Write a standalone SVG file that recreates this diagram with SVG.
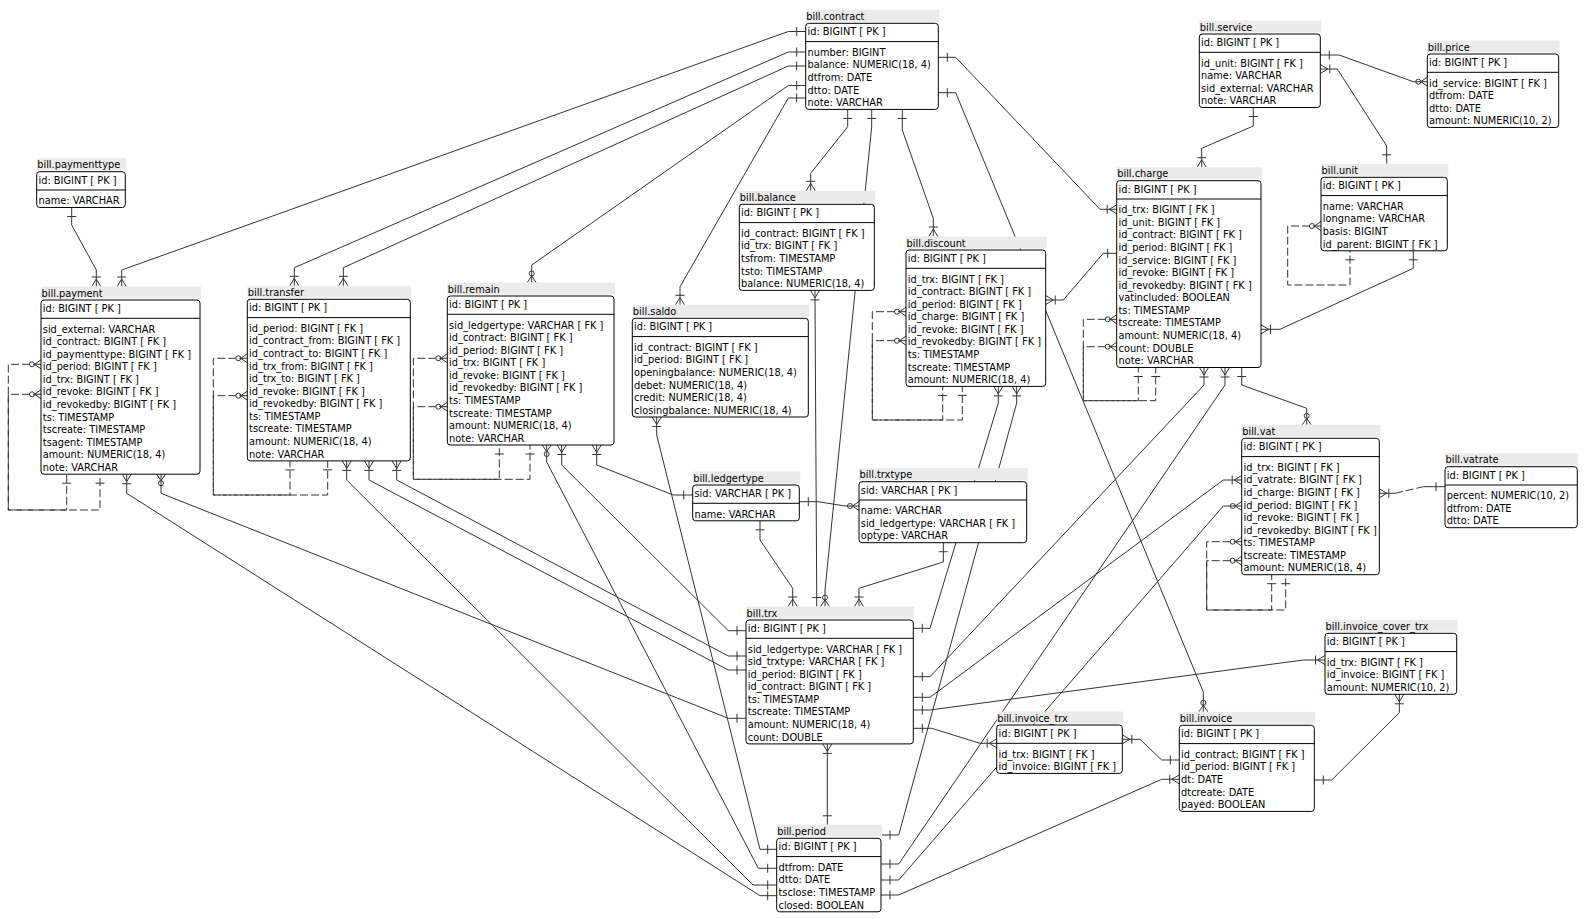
<svg xmlns="http://www.w3.org/2000/svg" width="1590" height="919" viewBox="0 0 1590 919">
<style>
.tb{fill:#ebebeb}
.bx{fill:#fff;stroke:#000;stroke-width:1}
.dv{stroke:#000;stroke-width:1}
.t{font-family:"DejaVu Sans",Verdana,sans-serif;font-size:9.8px;fill:#000}
.e{stroke:#333;fill:none;stroke-width:1}
</style>
<defs>
<g id="one"><path d="M-9,-4.5V4.5"/></g>
<g id="many"><path d="M-9.5,-4.5V4.5M-7.5,0L0,-4.5M-7.5,0L0,4.5"/></g>
<g id="zmany"><circle cx="-9" cy="0" r="2.5"/><path d="M-6.5,0L0,-4.5M-6.5,0L0,4.5"/></g>
</defs>
<rect width="1590" height="919" fill="#fff"/>
<g id="connectors" fill="none" stroke="#333" stroke-width="1">
<path d="M805.7,31.5H788.3L121.7,270V286.5"/>
<path d="M71.7,207.5V225L96.3,270V286.5"/>
<path d="M805.7,52H788.3L294.3,267.7V285.8"/>
<path d="M805.7,66H788.3L343.3,267.7V285.8"/>
<path d="M805.7,85.5H788.3L531.7,265V282.5"/>
<path d="M805.7,98H788.3L680,286.7V304.8"/>
<path d="M847.7,109.4V126.7L810.7,173.3V190.8"/>
<path d="M871.7,109.4V126.7L825,590V606.5"/>
<path d="M902.3,109.4V130L933.3,218.3V236.5"/>
<path d="M938.3,57.3H955.7L1100,209.3H1116.7"/>
<path d="M938.3,92.7H955.7L1203.3,692V711.8"/>
<path d="M1253.3,107.5V126L1201.7,148.3V167.2"/>
<path d="M1320.3,55H1339L1413.3,81.7H1427.3"/>
<path d="M1320.3,69H1337.3L1386.7,146V163.8"/>
<path d="M1413.3,250.8V268.3L1280,329.3H1261"/>
<path d="M1045.7,300H1063.3L1103.3,253.3H1116.7"/>
<path d="M1204,367.5V385L930,676.7H913.3"/>
<path d="M1225,367.5V385L898.7,864H881"/>
<path d="M1241.7,367.5V385L1306.7,408.3V424.8"/>
<path d="M1241.7,480H1223.3L930,697.3H913.3"/>
<path d="M1241.7,506H1223.3L898.7,880H881"/>
<path d="M1379.3,493.3H1395M1423.3,486.7H1445"/>
<path d="M998.3,386.4V403L930,628.3H913.3"/>
<path d="M1016.7,386.4V403L898.7,835H881"/>
<path d="M943.3,542.7V562L859,588.3V606.5"/>
<path d="M799.3,501.7H818.3L845,506H859"/>
<path d="M760,520.8V540L792.7,588.3V606.5"/>
<path d="M815,290.4V300L816.7,590V606.5"/>
<path d="M596.7,445V465L673.3,495H692.7"/>
<path d="M546.7,445V462L758.3,868.3H776.7"/>
<path d="M561.7,445V465L728.3,630.7H746"/>
<path d="M656.7,417V435L760,849.3H776.7"/>
<path d="M126.7,474.2V493.3L760,895.7H776.7"/>
<path d="M161,474.2V493.3L728.3,718.3H746"/>
<path d="M346.7,460.9V480L753,885H776.7"/>
<path d="M369,460.9V480L728.3,670H746"/>
<path d="M396.7,460.9V480L728.3,656H746"/>
<path d="M827.3,743.9V824.8"/>
<path d="M913.3,728.3H931.7L980,743.3H996.7"/>
<path d="M913.3,710H930L1303.3,660H1325"/>
<path d="M1122.3,739.3H1140L1161.7,760H1179.3"/>
<path d="M881,895H898.7L1161.7,779.3H1179.3"/>
<path d="M1314.3,780H1331.7L1399.3,712.7V694.3"/>
<g stroke-dasharray="8,3">
<path d="M1321,226H1287.7V285H1350V250.8"/>
<path d="M1116.7,319.3H1083.3V400.7H1138.3V367.5"/>
<path d="M1116.7,346.7H1083.3V400.7H1155.7V367.5"/>
<path d="M1241.7,541.7H1206.7V610H1271.7V574.7"/>
<path d="M1241.7,560.7H1206.7V610H1285.7V574.7"/>
<path d="M1395,493.3L1423.3,486.7"/>
<path d="M906,311.7H872.3V420H942.7V386.4"/>
<path d="M906,340.7H872.3V420H962.3V386.4"/>
<path d="M447.3,358.3H413.3V479.3H499.3V445"/>
<path d="M447.3,406.7H413.3V479.3H530V445"/>
<path d="M41,364.3H8.3V510H66.7V474.2"/>
<path d="M41,394.3H8.3V510H100V474.2"/>
<path d="M247.3,358.3H213.3V495H290V460.9"/>
<path d="M247.3,395.7H213.3V495H327.7V460.9"/>
</g>
<g class="e">
<use href="#one" transform="translate(805.7,31.5)"/>
<use href="#many" transform="translate(121.7,286.5) rotate(90)"/>
<use href="#one" transform="translate(71.7,207.5) rotate(-90)"/>
<use href="#many" transform="translate(96.3,286.5) rotate(90)"/>
<use href="#one" transform="translate(805.7,52)"/>
<use href="#many" transform="translate(294.3,285.8) rotate(90)"/>
<use href="#one" transform="translate(805.7,66)"/>
<use href="#many" transform="translate(343.3,285.8) rotate(90)"/>
<use href="#one" transform="translate(805.7,85.5)"/>
<use href="#zmany" transform="translate(531.7,282.5) rotate(90)"/>
<use href="#one" transform="translate(805.7,98)"/>
<use href="#many" transform="translate(680,304.8) rotate(90)"/>
<use href="#one" transform="translate(847.7,109.4) rotate(-90)"/>
<use href="#many" transform="translate(810.7,190.8) rotate(90)"/>
<use href="#one" transform="translate(871.7,109.4) rotate(-90)"/>
<use href="#zmany" transform="translate(825,606.5) rotate(90)"/>
<use href="#one" transform="translate(902.3,109.4) rotate(-90)"/>
<use href="#many" transform="translate(933.3,236.5) rotate(90)"/>
<use href="#one" transform="translate(938.3,57.3) rotate(180)"/>
<use href="#many" transform="translate(1116.7,209.3)"/>
<use href="#one" transform="translate(938.3,92.7) rotate(180)"/>
<use href="#zmany" transform="translate(1203.3,711.8) rotate(90)"/>
<use href="#one" transform="translate(1253.3,107.5) rotate(-90)"/>
<use href="#many" transform="translate(1201.7,167.2) rotate(90)"/>
<use href="#one" transform="translate(1320.3,55) rotate(180)"/>
<use href="#zmany" transform="translate(1427.3,81.7)"/>
<use href="#many" transform="translate(1320.3,69) rotate(180)"/>
<use href="#one" transform="translate(1386.7,163.8) rotate(90)"/>
<use href="#zmany" transform="translate(1321,226)"/>
<use href="#one" transform="translate(1350,250.8) rotate(-90)"/>
<use href="#one" transform="translate(1413.3,250.8) rotate(-90)"/>
<use href="#many" transform="translate(1261,329.3) rotate(180)"/>
<use href="#many" transform="translate(1045.7,300) rotate(180)"/>
<use href="#one" transform="translate(1116.7,253.3)"/>
<use href="#zmany" transform="translate(1116.7,319.3)"/>
<use href="#one" transform="translate(1138.3,367.5) rotate(-90)"/>
<use href="#zmany" transform="translate(1116.7,346.7)"/>
<use href="#one" transform="translate(1155.7,367.5) rotate(-90)"/>
<use href="#many" transform="translate(1204,367.5) rotate(-90)"/>
<use href="#one" transform="translate(913.3,676.7) rotate(180)"/>
<use href="#many" transform="translate(1225,367.5) rotate(-90)"/>
<use href="#one" transform="translate(881,864) rotate(180)"/>
<use href="#one" transform="translate(1241.7,367.5) rotate(-90)"/>
<use href="#zmany" transform="translate(1306.7,424.8) rotate(90)"/>
<use href="#many" transform="translate(1241.7,480)"/>
<use href="#one" transform="translate(913.3,697.3) rotate(180)"/>
<use href="#zmany" transform="translate(1241.7,506)"/>
<use href="#one" transform="translate(881,880) rotate(180)"/>
<use href="#zmany" transform="translate(1241.7,541.7)"/>
<use href="#zmany" transform="translate(1241.7,560.7)"/>
<use href="#one" transform="translate(1271.7,574.7) rotate(-90)"/>
<use href="#one" transform="translate(1285.7,574.7) rotate(-90)"/>
<use href="#many" transform="translate(1379.3,493.3) rotate(180)"/>
<use href="#one" transform="translate(1445,486.7)"/>
<use href="#zmany" transform="translate(906,311.7)"/>
<use href="#zmany" transform="translate(906,340.7)"/>
<use href="#one" transform="translate(942.7,386.4) rotate(-90)"/>
<use href="#one" transform="translate(962.3,386.4) rotate(-90)"/>
<use href="#many" transform="translate(998.3,386.4) rotate(-90)"/>
<use href="#one" transform="translate(913.3,628.3) rotate(180)"/>
<use href="#many" transform="translate(1016.7,386.4) rotate(-90)"/>
<use href="#one" transform="translate(881,835) rotate(180)"/>
<use href="#one" transform="translate(943.3,542.7) rotate(-90)"/>
<use href="#many" transform="translate(859,606.5) rotate(90)"/>
<use href="#one" transform="translate(799.3,501.7) rotate(180)"/>
<use href="#zmany" transform="translate(859,506)"/>
<use href="#one" transform="translate(760,520.8) rotate(-90)"/>
<use href="#many" transform="translate(792.7,606.5) rotate(90)"/>
<use href="#many" transform="translate(815,290.4) rotate(-90)"/>
<use href="#one" transform="translate(816.7,606.5) rotate(90)"/>
<use href="#many" transform="translate(596.7,445) rotate(-90)"/>
<use href="#one" transform="translate(692.7,495)"/>
<use href="#zmany" transform="translate(447.3,358.3)"/>
<use href="#zmany" transform="translate(447.3,406.7)"/>
<use href="#one" transform="translate(499.3,445) rotate(-90)"/>
<use href="#one" transform="translate(530,445) rotate(-90)"/>
<use href="#zmany" transform="translate(546.7,445) rotate(-90)"/>
<use href="#one" transform="translate(776.7,868.3)"/>
<use href="#many" transform="translate(561.7,445) rotate(-90)"/>
<use href="#one" transform="translate(746,630.7)"/>
<use href="#many" transform="translate(656.7,417) rotate(-90)"/>
<use href="#one" transform="translate(776.7,849.3)"/>
<use href="#many" transform="translate(126.7,474.2) rotate(-90)"/>
<use href="#one" transform="translate(776.7,895.7)"/>
<use href="#zmany" transform="translate(161,474.2) rotate(-90)"/>
<use href="#one" transform="translate(746,718.3)"/>
<use href="#zmany" transform="translate(41,364.3)"/>
<use href="#zmany" transform="translate(41,394.3)"/>
<use href="#one" transform="translate(66.7,474.2) rotate(-90)"/>
<use href="#one" transform="translate(100,474.2) rotate(-90)"/>
<use href="#many" transform="translate(346.7,460.9) rotate(-90)"/>
<use href="#one" transform="translate(776.7,885)"/>
<use href="#many" transform="translate(369,460.9) rotate(-90)"/>
<use href="#one" transform="translate(746,670)"/>
<use href="#many" transform="translate(396.7,460.9) rotate(-90)"/>
<use href="#one" transform="translate(746,656)"/>
<use href="#zmany" transform="translate(247.3,358.3)"/>
<use href="#zmany" transform="translate(247.3,395.7)"/>
<use href="#one" transform="translate(290,460.9) rotate(-90)"/>
<use href="#one" transform="translate(327.7,460.9) rotate(-90)"/>
<use href="#many" transform="translate(827.3,743.9) rotate(-90)"/>
<use href="#one" transform="translate(827.3,824.8) rotate(90)"/>
<use href="#one" transform="translate(913.3,728.3) rotate(180)"/>
<use href="#many" transform="translate(996.7,743.3)"/>
<use href="#one" transform="translate(913.3,710) rotate(180)"/>
<use href="#many" transform="translate(1325,660)"/>
<use href="#many" transform="translate(1122.3,739.3) rotate(180)"/>
<use href="#one" transform="translate(1179.3,760)"/>
<use href="#one" transform="translate(881,895) rotate(180)"/>
<use href="#many" transform="translate(1179.3,779.3)"/>
<use href="#one" transform="translate(1314.3,780) rotate(180)"/>
<use href="#many" transform="translate(1399.3,694.3) rotate(-90)"/>
</g>
</g>

<g id="contract">
<rect class="tb" x="805.7" y="9.8" width="133.6" height="12"/>
<text class="t" x="806.2" y="19.8">bill.contract</text>
<rect class="bx" x="805.7" y="23.3" width="132.6" height="86.1" rx="3"/>
<line class="dv" x1="805.7" y1="41.6" x2="938.3" y2="41.6"/>
<text class="t" x="807.5" y="35.1">id: BIGINT [ PK ]</text>
<text class="t" x="807.5" y="55.8">number: BIGINT<tspan x="807.5" dy="12.58">balance: NUMERIC(18, 4)</tspan><tspan x="807.5" dy="12.58">dtfrom: DATE</tspan><tspan x="807.5" dy="12.58">dtto: DATE</tspan><tspan x="807.5" dy="12.58">note: VARCHAR</tspan></text>
</g>

<g id="service">
<rect class="tb" x="1199.3" y="20.5" width="122" height="12"/>
<text class="t" x="1199.8" y="30.5">bill.service</text>
<rect class="bx" x="1199.3" y="34" width="121" height="73.5" rx="3"/>
<line class="dv" x1="1199.3" y1="52.3" x2="1320.3" y2="52.3"/>
<text class="t" x="1201.1" y="45.8">id: BIGINT [ PK ]</text>
<text class="t" x="1201.1" y="66.5">id_unit: BIGINT [ FK ]<tspan x="1201.1" dy="12.58">name: VARCHAR</tspan><tspan x="1201.1" dy="12.58">sid_external: VARCHAR</tspan><tspan x="1201.1" dy="12.58">note: VARCHAR</tspan></text>
</g>

<g id="price">
<rect class="tb" x="1427.3" y="40.5" width="132.4" height="12"/>
<text class="t" x="1427.8" y="50.5">bill.price</text>
<rect class="bx" x="1427.3" y="54" width="131.4" height="73.5" rx="3"/>
<line class="dv" x1="1427.3" y1="72.3" x2="1558.7" y2="72.3"/>
<text class="t" x="1429.1" y="65.8">id: BIGINT [ PK ]</text>
<text class="t" x="1429.1" y="86.5">id_service: BIGINT [ FK ]<tspan x="1429.1" dy="12.58">dtfrom: DATE</tspan><tspan x="1429.1" dy="12.58">dtto: DATE</tspan><tspan x="1429.1" dy="12.58">amount: NUMERIC(10, 2)</tspan></text>
</g>

<g id="unit">
<rect class="tb" x="1321" y="163.8" width="127.3" height="12"/>
<text class="t" x="1321.5" y="173.8">bill.unit</text>
<rect class="bx" x="1321" y="177.3" width="126.3" height="73.5" rx="3"/>
<line class="dv" x1="1321" y1="195.6" x2="1447.3" y2="195.6"/>
<text class="t" x="1322.8" y="189.1">id: BIGINT [ PK ]</text>
<text class="t" x="1322.8" y="209.8">name: VARCHAR<tspan x="1322.8" dy="12.58">longname: VARCHAR</tspan><tspan x="1322.8" dy="12.58">basis: BIGINT</tspan><tspan x="1322.8" dy="12.58">id_parent: BIGINT [ FK ]</tspan></text>
</g>

<g id="charge">
<rect class="tb" x="1116.7" y="167.2" width="145.3" height="12"/>
<text class="t" x="1117.2" y="177.2">bill.charge</text>
<rect class="bx" x="1116.7" y="180.7" width="144.3" height="186.8" rx="3"/>
<line class="dv" x1="1116.7" y1="199" x2="1261" y2="199"/>
<text class="t" x="1118.5" y="192.5">id: BIGINT [ PK ]</text>
<text class="t" x="1118.5" y="213.2">id_trx: BIGINT [ FK ]<tspan x="1118.5" dy="12.58">id_unit: BIGINT [ FK ]</tspan><tspan x="1118.5" dy="12.58">id_contract: BIGINT [ FK ]</tspan><tspan x="1118.5" dy="12.58">id_period: BIGINT [ FK ]</tspan><tspan x="1118.5" dy="12.58">id_service: BIGINT [ FK ]</tspan><tspan x="1118.5" dy="12.58">id_revoke: BIGINT [ FK ]</tspan><tspan x="1118.5" dy="12.58">id_revokedby: BIGINT [ FK ]</tspan><tspan x="1118.5" dy="12.58">vatincluded: BOOLEAN</tspan><tspan x="1118.5" dy="12.58">ts: TIMESTAMP</tspan><tspan x="1118.5" dy="12.58">tscreate: TIMESTAMP</tspan><tspan x="1118.5" dy="12.58">amount: NUMERIC(18, 4)</tspan><tspan x="1118.5" dy="12.58">count: DOUBLE</tspan><tspan x="1118.5" dy="12.58">note: VARCHAR</tspan></text>
</g>

<g id="balance">
<rect class="tb" x="739.3" y="190.8" width="136" height="12"/>
<text class="t" x="739.8" y="200.8">bill.balance</text>
<rect class="bx" x="739.3" y="204.3" width="135" height="86.1" rx="3"/>
<line class="dv" x1="739.3" y1="222.6" x2="874.3" y2="222.6"/>
<text class="t" x="741.1" y="216.1">id: BIGINT [ PK ]</text>
<text class="t" x="741.1" y="236.8">id_contract: BIGINT [ FK ]<tspan x="741.1" dy="12.58">id_trx: BIGINT [ FK ]</tspan><tspan x="741.1" dy="12.58">tsfrom: TIMESTAMP</tspan><tspan x="741.1" dy="12.58">tsto: TIMESTAMP</tspan><tspan x="741.1" dy="12.58">balance: NUMERIC(18, 4)</tspan></text>
</g>

<g id="discount">
<rect class="tb" x="906" y="236.5" width="140.7" height="12"/>
<text class="t" x="906.5" y="246.5">bill.discount</text>
<rect class="bx" x="906" y="250" width="139.7" height="136.4" rx="3"/>
<line class="dv" x1="906" y1="268.3" x2="1045.7" y2="268.3"/>
<text class="t" x="907.8" y="261.8">id: BIGINT [ PK ]</text>
<text class="t" x="907.8" y="282.5">id_trx: BIGINT [ FK ]<tspan x="907.8" dy="12.58">id_contract: BIGINT [ FK ]</tspan><tspan x="907.8" dy="12.58">id_period: BIGINT [ FK ]</tspan><tspan x="907.8" dy="12.58">id_charge: BIGINT [ FK ]</tspan><tspan x="907.8" dy="12.58">id_revoke: BIGINT [ FK ]</tspan><tspan x="907.8" dy="12.58">id_revokedby: BIGINT [ FK ]</tspan><tspan x="907.8" dy="12.58">ts: TIMESTAMP</tspan><tspan x="907.8" dy="12.58">tscreate: TIMESTAMP</tspan><tspan x="907.8" dy="12.58">amount: NUMERIC(18, 4)</tspan></text>
</g>

<g id="paymenttype">
<rect class="tb" x="36.7" y="158.2" width="89.6" height="12"/>
<text class="t" x="37.2" y="168.2">bill.paymenttype</text>
<rect class="bx" x="36.7" y="171.7" width="88.6" height="35.8" rx="3"/>
<line class="dv" x1="36.7" y1="190" x2="125.3" y2="190"/>
<text class="t" x="38.5" y="183.5">id: BIGINT [ PK ]</text>
<text class="t" x="38.5" y="204.2">name: VARCHAR</text>
</g>

<g id="payment">
<rect class="tb" x="41" y="286.5" width="160" height="12"/>
<text class="t" x="41.5" y="296.5">bill.payment</text>
<rect class="bx" x="41" y="300" width="159" height="174.2" rx="3"/>
<line class="dv" x1="41" y1="318.3" x2="200" y2="318.3"/>
<text class="t" x="42.8" y="311.8">id: BIGINT [ PK ]</text>
<text class="t" x="42.8" y="332.5">sid_external: VARCHAR<tspan x="42.8" dy="12.58">id_contract: BIGINT [ FK ]</tspan><tspan x="42.8" dy="12.58">id_paymenttype: BIGINT [ FK ]</tspan><tspan x="42.8" dy="12.58">id_period: BIGINT [ FK ]</tspan><tspan x="42.8" dy="12.58">id_trx: BIGINT [ FK ]</tspan><tspan x="42.8" dy="12.58">id_revoke: BIGINT [ FK ]</tspan><tspan x="42.8" dy="12.58">id_revokedby: BIGINT [ FK ]</tspan><tspan x="42.8" dy="12.58">ts: TIMESTAMP</tspan><tspan x="42.8" dy="12.58">tscreate: TIMESTAMP</tspan><tspan x="42.8" dy="12.58">tsagent: TIMESTAMP</tspan><tspan x="42.8" dy="12.58">amount: NUMERIC(18, 4)</tspan><tspan x="42.8" dy="12.58">note: VARCHAR</tspan></text>
</g>

<g id="transfer">
<rect class="tb" x="247.3" y="285.8" width="164" height="12"/>
<text class="t" x="247.8" y="295.8">bill.transfer</text>
<rect class="bx" x="247.3" y="299.3" width="163" height="161.6" rx="3"/>
<line class="dv" x1="247.3" y1="317.6" x2="410.3" y2="317.6"/>
<text class="t" x="249.1" y="311.1">id: BIGINT [ PK ]</text>
<text class="t" x="249.1" y="331.8">id_period: BIGINT [ FK ]<tspan x="249.1" dy="12.58">id_contract_from: BIGINT [ FK ]</tspan><tspan x="249.1" dy="12.58">id_contract_to: BIGINT [ FK ]</tspan><tspan x="249.1" dy="12.58">id_trx_from: BIGINT [ FK ]</tspan><tspan x="249.1" dy="12.58">id_trx_to: BIGINT [ FK ]</tspan><tspan x="249.1" dy="12.58">id_revoke: BIGINT [ FK ]</tspan><tspan x="249.1" dy="12.58">id_revokedby: BIGINT [ FK ]</tspan><tspan x="249.1" dy="12.58">ts: TIMESTAMP</tspan><tspan x="249.1" dy="12.58">tscreate: TIMESTAMP</tspan><tspan x="249.1" dy="12.58">amount: NUMERIC(18, 4)</tspan><tspan x="249.1" dy="12.58">note: VARCHAR</tspan></text>
</g>

<g id="remain">
<rect class="tb" x="447.3" y="282.5" width="167.7" height="12"/>
<text class="t" x="447.8" y="292.5">bill.remain</text>
<rect class="bx" x="447.3" y="296" width="166.7" height="149" rx="3"/>
<line class="dv" x1="447.3" y1="314.3" x2="614" y2="314.3"/>
<text class="t" x="449.1" y="307.8">id: BIGINT [ PK ]</text>
<text class="t" x="449.1" y="328.5">sid_ledgertype: VARCHAR [ FK ]<tspan x="449.1" dy="12.58">id_contract: BIGINT [ FK ]</tspan><tspan x="449.1" dy="12.58">id_period: BIGINT [ FK ]</tspan><tspan x="449.1" dy="12.58">id_trx: BIGINT [ FK ]</tspan><tspan x="449.1" dy="12.58">id_revoke: BIGINT [ FK ]</tspan><tspan x="449.1" dy="12.58">id_revokedby: BIGINT [ FK ]</tspan><tspan x="449.1" dy="12.58">ts: TIMESTAMP</tspan><tspan x="449.1" dy="12.58">tscreate: TIMESTAMP</tspan><tspan x="449.1" dy="12.58">amount: NUMERIC(18, 4)</tspan><tspan x="449.1" dy="12.58">note: VARCHAR</tspan></text>
</g>

<g id="saldo">
<rect class="tb" x="632.3" y="304.8" width="177" height="12"/>
<text class="t" x="632.8" y="314.8">bill.saldo</text>
<rect class="bx" x="632.3" y="318.3" width="176" height="98.7" rx="3"/>
<line class="dv" x1="632.3" y1="336.6" x2="808.3" y2="336.6"/>
<text class="t" x="634.1" y="330.1">id: BIGINT [ PK ]</text>
<text class="t" x="634.1" y="350.8">id_contract: BIGINT [ FK ]<tspan x="634.1" dy="12.58">id_period: BIGINT [ FK ]</tspan><tspan x="634.1" dy="12.58">openingbalance: NUMERIC(18, 4)</tspan><tspan x="634.1" dy="12.58">debet: NUMERIC(18, 4)</tspan><tspan x="634.1" dy="12.58">credit: NUMERIC(18, 4)</tspan><tspan x="634.1" dy="12.58">closingbalance: NUMERIC(18, 4)</tspan></text>
</g>

<g id="ledgertype">
<rect class="tb" x="692.7" y="471.5" width="107.6" height="12"/>
<text class="t" x="693.2" y="481.5">bill.ledgertype</text>
<rect class="bx" x="692.7" y="485" width="106.6" height="35.8" rx="3"/>
<line class="dv" x1="692.7" y1="503.3" x2="799.3" y2="503.3"/>
<text class="t" x="694.5" y="496.8">sid: VARCHAR [ PK ]</text>
<text class="t" x="694.5" y="517.5">name: VARCHAR</text>
</g>

<g id="trxtype">
<rect class="tb" x="859" y="468.2" width="168.7" height="12"/>
<text class="t" x="859.5" y="478.2">bill.trxtype</text>
<rect class="bx" x="859" y="481.7" width="167.7" height="61" rx="3"/>
<line class="dv" x1="859" y1="500" x2="1026.7" y2="500"/>
<text class="t" x="860.8" y="493.5">sid: VARCHAR [ PK ]</text>
<text class="t" x="860.8" y="514.2">name: VARCHAR<tspan x="860.8" dy="12.58">sid_ledgertype: VARCHAR [ FK ]</tspan><tspan x="860.8" dy="12.58">optype: VARCHAR</tspan></text>
</g>

<g id="trx">
<rect class="tb" x="746" y="606.5" width="168.3" height="12"/>
<text class="t" x="746.5" y="616.5">bill.trx</text>
<rect class="bx" x="746" y="620" width="167.3" height="123.9" rx="3"/>
<line class="dv" x1="746" y1="638.3" x2="913.3" y2="638.3"/>
<text class="t" x="747.8" y="631.8">id: BIGINT [ PK ]</text>
<text class="t" x="747.8" y="652.5">sid_ledgertype: VARCHAR [ FK ]<tspan x="747.8" dy="12.58">sid_trxtype: VARCHAR [ FK ]</tspan><tspan x="747.8" dy="12.58">id_period: BIGINT [ FK ]</tspan><tspan x="747.8" dy="12.58">id_contract: BIGINT [ FK ]</tspan><tspan x="747.8" dy="12.58">ts: TIMESTAMP</tspan><tspan x="747.8" dy="12.58">tscreate: TIMESTAMP</tspan><tspan x="747.8" dy="12.58">amount: NUMERIC(18, 4)</tspan><tspan x="747.8" dy="12.58">count: DOUBLE</tspan></text>
</g>

<g id="period">
<rect class="tb" x="776.7" y="824.8" width="105.3" height="12"/>
<text class="t" x="777.2" y="834.8">bill.period</text>
<rect class="bx" x="776.7" y="838.3" width="104.3" height="73.5" rx="3"/>
<line class="dv" x1="776.7" y1="856.6" x2="881" y2="856.6"/>
<text class="t" x="778.5" y="850.1">id: BIGINT [ PK ]</text>
<text class="t" x="778.5" y="870.8">dtfrom: DATE<tspan x="778.5" dy="12.58">dtto: DATE</tspan><tspan x="778.5" dy="12.58">tsclose: TIMESTAMP</tspan><tspan x="778.5" dy="12.58">closed: BOOLEAN</tspan></text>
</g>

<g id="invoice_trx">
<rect class="tb" x="996.7" y="711.5" width="126.6" height="12"/>
<text class="t" x="997.2" y="721.5">bill.invoice_trx</text>
<rect class="bx" x="996.7" y="725" width="125.6" height="48.4" rx="3"/>
<line class="dv" x1="996.7" y1="743.3" x2="1122.3" y2="743.3"/>
<text class="t" x="998.5" y="736.8">id: BIGINT [ PK ]</text>
<text class="t" x="998.5" y="757.5">id_trx: BIGINT [ FK ]<tspan x="998.5" dy="12.58">id_invoice: BIGINT [ FK ]</tspan></text>
</g>

<g id="invoice">
<rect class="tb" x="1179.3" y="711.8" width="136" height="12"/>
<text class="t" x="1179.8" y="721.8">bill.invoice</text>
<rect class="bx" x="1179.3" y="725.3" width="135" height="86.1" rx="3"/>
<line class="dv" x1="1179.3" y1="743.6" x2="1314.3" y2="743.6"/>
<text class="t" x="1181.1" y="737.1">id: BIGINT [ PK ]</text>
<text class="t" x="1181.1" y="757.8">id_contract: BIGINT [ FK ]<tspan x="1181.1" dy="12.58">id_period: BIGINT [ FK ]</tspan><tspan x="1181.1" dy="12.58">dt: DATE</tspan><tspan x="1181.1" dy="12.58">dtcreate: DATE</tspan><tspan x="1181.1" dy="12.58">payed: BOOLEAN</tspan></text>
</g>

<g id="invoice_cover_trx">
<rect class="tb" x="1325" y="619.8" width="132.7" height="12"/>
<text class="t" x="1325.5" y="629.8">bill.invoice_cover_trx</text>
<rect class="bx" x="1325" y="633.3" width="131.7" height="61" rx="3"/>
<line class="dv" x1="1325" y1="651.6" x2="1456.7" y2="651.6"/>
<text class="t" x="1326.8" y="645.1">id: BIGINT [ PK ]</text>
<text class="t" x="1326.8" y="665.8">id_trx: BIGINT [ FK ]<tspan x="1326.8" dy="12.58">id_invoice: BIGINT [ FK ]</tspan><tspan x="1326.8" dy="12.58">amount: NUMERIC(10, 2)</tspan></text>
</g>

<g id="vat">
<rect class="tb" x="1241.7" y="424.8" width="138.6" height="12"/>
<text class="t" x="1242.2" y="434.8">bill.vat</text>
<rect class="bx" x="1241.7" y="438.3" width="137.6" height="136.4" rx="3"/>
<line class="dv" x1="1241.7" y1="456.6" x2="1379.3" y2="456.6"/>
<text class="t" x="1243.5" y="450.1">id: BIGINT [ PK ]</text>
<text class="t" x="1243.5" y="470.8">id_trx: BIGINT [ FK ]<tspan x="1243.5" dy="12.58">id_vatrate: BIGINT [ FK ]</tspan><tspan x="1243.5" dy="12.58">id_charge: BIGINT [ FK ]</tspan><tspan x="1243.5" dy="12.58">id_period: BIGINT [ FK ]</tspan><tspan x="1243.5" dy="12.58">id_revoke: BIGINT [ FK ]</tspan><tspan x="1243.5" dy="12.58">id_revokedby: BIGINT [ FK ]</tspan><tspan x="1243.5" dy="12.58">ts: TIMESTAMP</tspan><tspan x="1243.5" dy="12.58">tscreate: TIMESTAMP</tspan><tspan x="1243.5" dy="12.58">amount: NUMERIC(18, 4)</tspan></text>
</g>

<g id="vatrate">
<rect class="tb" x="1445" y="453.2" width="133.3" height="12"/>
<text class="t" x="1445.5" y="463.2">bill.vatrate</text>
<rect class="bx" x="1445" y="466.7" width="132.3" height="61" rx="3"/>
<line class="dv" x1="1445" y1="485" x2="1577.3" y2="485"/>
<text class="t" x="1446.8" y="478.5">id: BIGINT [ PK ]</text>
<text class="t" x="1446.8" y="499.2">percent: NUMERIC(10, 2)<tspan x="1446.8" dy="12.58">dtfrom: DATE</tspan><tspan x="1446.8" dy="12.58">dtto: DATE</tspan></text>
</g>
</svg>
